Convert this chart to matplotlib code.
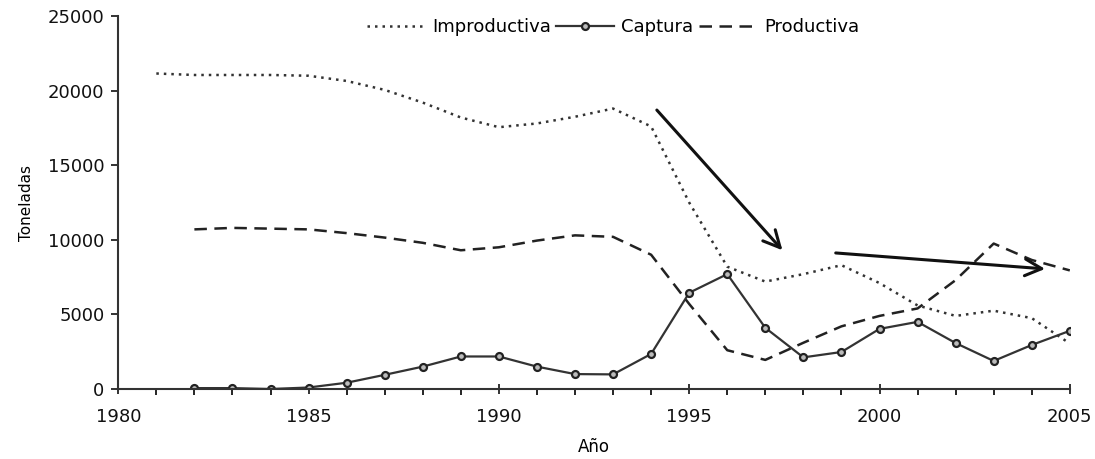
import numpy as np
import matplotlib
matplotlib.use('Agg')
import matplotlib.pyplot as plt

plt.rcParams['font.family'] = ['DejaVu Sans']

# data
years_imp = list(range(1981, 2006))
improductiva = [21150, 21050, 21050, 21050, 21000, 20650, 20050, 19200, 18200, 17550,
                17800, 18250, 18800, 17600, 12500, 8200, 7200, 7700, 8300, 7100,
                5600, 4900, 5250, 4750, 3050]

years = list(range(1982, 2006))
productiva = [10700, 10800, 10750, 10700, 10450, 10150, 9800, 9300, 9500, 9950,
              10300, 10200, 9000, 5700, 2600, 1950, 3100, 4200, 4900, 5400,
              7300, 9750, 8650, 7950]
captura = [60, 60, 0, 100, 420, 950, 1500, 2180, 2180, 1500,
           1000, 980, 2350, 6450, 7700, 4100, 2120, 2480, 4030, 4500,
           3080, 1880, 2950, 3900]

# arrows (start, end) in data coords
arrow1 = ((1994.15, 18700), (1997.45, 9300))
arrow2 = ((1998.85, 9120), (2004.35, 8050))

fig = plt.figure(figsize=(10.95, 4.59), dpi=100)
ax = fig.add_axes([0.108, 0.1525, 0.869, 0.8125])

ax.plot(years_imp, improductiva, color='#333333', lw=1.8, linestyle=(0, (1, 2)),
        label='Improductiva')
ax.plot(years, captura, color='#333333', lw=1.6, marker='o', ms=5,
        mfc='#bbbbbb', mec='#222222', mew=1.6, label='Captura')
ax.plot(years, productiva, color='#222222', lw=1.8, linestyle=(0, (5, 3)),
        label='Productiva')

for a in (arrow1, arrow2):
    ax.annotate('', xy=a[1], xytext=a[0],
                arrowprops=dict(arrowstyle='->', lw=2.2, color='#111111',
                                mutation_scale=30, shrinkA=0, shrinkB=0))

ax.set_xlim(1980, 2005)
ax.set_ylim(0, 25000)
ax.set_xticks(np.arange(1980, 2006, 5))
ax.set_xticks(np.arange(1980, 2006, 1), minor=True)
ax.set_yticks(np.arange(0, 25001, 5000))
ax.tick_params(axis='both', labelsize=13, colors='#111111', width=1.2)
ax.tick_params(axis='x', which='major', direction='inout', length=7, pad=10)
ax.tick_params(axis='x', which='minor', direction='out', length=4, width=1.2)
ax.tick_params(axis='y', direction='out', length=5, pad=5)

for s in ('top', 'right'):
    ax.spines[s].set_visible(False)
for s in ('left', 'bottom'):
    ax.spines[s].set_linewidth(1.5)
    ax.spines[s].set_color('#333333')

ax.set_xlabel('Año', fontsize=12, labelpad=9)
ax.set_ylabel('Toneladas', fontsize=11, labelpad=10)

ax.legend(loc='center', bbox_to_anchor=(0.52, 0.97), ncol=3, frameon=False,
          fontsize=13, handlelength=3.2, columnspacing=0.3, handletextpad=0.4)

plt.savefig('out.png', dpi=100)
